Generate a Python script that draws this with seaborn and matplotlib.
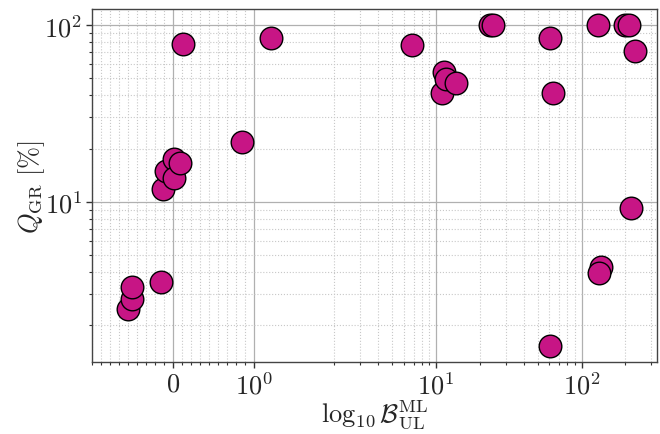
import numpy as np
import pandas as pd
import matplotlib
matplotlib.use("Agg")
import matplotlib.pyplot as plt
import matplotlib.ticker as mticker
import seaborn as sns

# Data
log_bayes = [-0.56, -0.51, -0.50, -0.14, -0.12, -0.08, 0.01, 0.02, 0.09,
             0.12, 0.86, 1.21, 6.8, 11.0, 11.4, 11.7, 13.7, 23.5, 24.8,
             60.6, 63.8, 60.6, 129.0, 198.0, 212.0, 232.0, 217.0, 137.0, 132.0]
q_gr = [2.48, 2.82, 3.31, 3.50, 11.85, 14.85, 17.5, 13.7, 16.5,
        78.1, 21.8, 84.1, 77.5, 41.2, 54.2, 49.7, 46.9, 100.0, 100.0,
        84.1, 41.2, 1.52, 100.0, 100.0, 100.5, 71.2, 9.2, 4.25, 3.93]

df = pd.DataFrame({"x": log_bayes, "y": q_gr})

sns.set_theme(style="whitegrid")
plt.rcParams.update({
    "font.family": "serif",
    "font.serif": ["cmr10", "DejaVu Serif"],
    "mathtext.fontset": "cm",
    "axes.formatter.use_mathtext": True,
    "axes.unicode_minus": False,
})

fig = plt.figure(figsize=(6.6, 4.35), dpi=100)
ax = fig.add_axes([92/660, 1-363.3/435, (657-92)/660, (363.3-10)/435])

sns.scatterplot(data=df, x="x", y="y", ax=ax, s=265, color="mediumvioletred",
                edgecolor="black", linewidth=1.0, zorder=3, legend=False)

ax.set_xscale("symlog", linthresh=2)
ax.set_yscale("log")
ax.set_xlim(-1, 330)
ax.set_ylim(1.233, 123.3)

minor_x = np.concatenate([np.linspace(-1, 1, 19), np.arange(2, 10),
                          np.arange(20, 100, 10), np.arange(200, 1000, 100)])
ax.xaxis.set_minor_locator(mticker.FixedLocator(minor_x))
ax.yaxis.set_minor_locator(mticker.LogLocator(base=10, subs=np.arange(2, 10)))
ax.yaxis.set_minor_formatter(mticker.NullFormatter())

ax.grid(True, which="major", color="#b0b0b0", linestyle="-", linewidth=0.9)
ax.grid(True, which="minor", color="#c8c8c8", linestyle=":", linewidth=0.8)
ax.set_axisbelow(True)

for sp in ax.spines.values():
    sp.set_color("#444444")
    sp.set_linewidth(1.0)
    sp.set_visible(True)

ax.tick_params(axis="both", which="major", direction="out", length=4,
               width=1, color="#333333", labelsize=19, pad=3,
               bottom=True, left=True)
ax.tick_params(axis="both", which="minor", direction="out", length=2.5,
               width=0.8, color="#333333", bottom=True, left=True)

ax.set_xlabel(r"$\log_{10}\mathcal{B}^{\rm ML}_{\rm UL}$", fontsize=19, labelpad=-1)
ax.set_ylabel(r"$Q_{\rm GR}\ [\%]$", fontsize=19, labelpad=-2)

fig.savefig("out.png", dpi=100)
